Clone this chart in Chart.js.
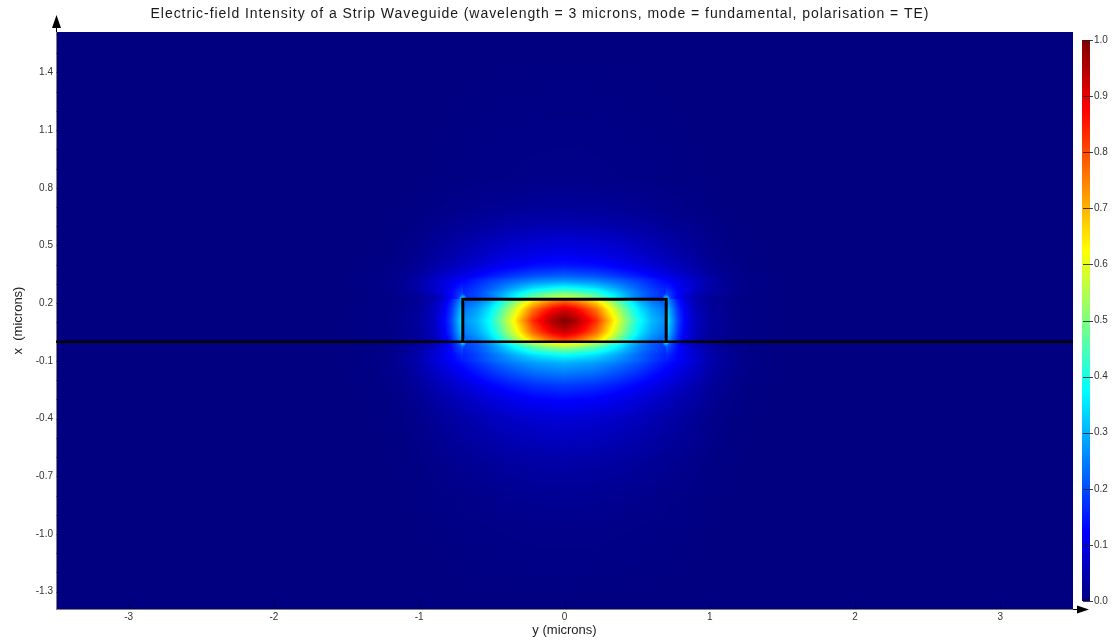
<!DOCTYPE html>
<html lang="en">
<head>
<meta charset="UTF-8">
<title>Strip Waveguide - Electric-field Intensity</title>
<script src="https://cdn.jsdelivr.net/npm/chart.js"></script>
<style>
  body { margin: 0; background: #fff; }
</style>
</head>
<body>
<canvas id="field" width="1119" height="640"></canvas>
<script>
// horizontal axis is y, vertical axis is x (both in microns)
const yRange = [-3.5, 3.5];
const xRange = [-1.39, 1.61];
const yTicks = [-3, -2, -1, 0, 1, 2, 3];
const xTicks = [-1.3, -1.0, -0.7, -0.4, -0.1, 0.2, 0.5, 0.8, 1.1, 1.4];
const barTicks = [0, 0.1, 0.2, 0.3, 0.4, 0.5, 0.6, 0.7, 0.8, 0.9, 1.0];

// strip cross-section: sits on the substrate at x = 0
const stripY = [-0.7, 0.7];
const stripX = [0, 0.22];

// intensity down the centre of the strip (x -> I), repeated x = jump at an interface
const centreX = [-1.39, -1.0, -0.8, -0.62, -0.52, -0.4, -0.3, -0.23, -0.17, -0.11, -0.07, -0.03, -0.01, 0, 0,
  0.05, 0.11, 0.17, 0.22, 0.22, 0.25, 0.28, 0.31, 0.34, 0.39, 0.45, 0.53, 0.6, 0.7, 0.85, 1.61];
const centreI = [0, 0.01, 0.02, 0.04, 0.06, 0.085, 0.13, 0.18, 0.24, 0.3, 0.38, 0.53, 0.64, 0.68, 0.79,
  0.93, 1.0, 0.91, 0.75, 0.6, 0.5, 0.38, 0.29, 0.22, 0.15, 0.11, 0.08, 0.05, 0.025, 0.01, 0];

// relative intensity across the guide (|y| -> factor) for rows inside the strip
const coreY = [0, 0.08, 0.15, 0.22, 0.29, 0.36, 0.45, 0.52, 0.6, 0.7, 0.7, 0.73, 0.78, 0.83, 0.9, 1.0, 1.2, 1.6];
const coreI = [1, 0.96, 0.9, 0.83, 0.72, 0.61, 0.47, 0.38, 0.31, 0.26, 0.37, 0.3, 0.19, 0.12, 0.065, 0.03, 0.008, 0];

// same for rows in the cladding above and the substrate below
const cladY = [0, 0.2, 0.36, 0.5, 0.58, 0.72, 0.86, 1.0, 1.14, 1.27, 1.5, 1.8];
const cladI = [1, 0.94, 0.82, 0.69, 0.6, 0.45, 0.3, 0.15, 0.065, 0.028, 0.006, 0];

// cladding rows this close to the strip (microns) still follow the strip profile
const nearStrip = 0.1;

// small bright spots just outside the four strip corners
const cornerPeak = 0.34;
const cornerSize = 0.035;

const titleText = 'Electric-field Intensity of a Strip Waveguide (wavelength = 3 microns, mode = fundamental, polarisation = TE)';
const family = '"Liberation Sans", Arial, sans-serif';

function lookup(pos, val, t) {
  if (t <= pos[0]) return val[0];
  for (let i = 1; i < pos.length; i++) {
    if (t <= pos[i]) {
      const span = pos[i] - pos[i - 1];
      if (span === 0) return val[i];
      return val[i - 1] + (val[i] - val[i - 1]) * (t - pos[i - 1]) / span;
    }
  }
  return val[val.length - 1];
}

const clamp = v => Math.max(0, Math.min(1, v));

// classic jet colour map
function jet(v) {
  v = clamp(v);
  return [
    Math.round(255 * clamp(1.5 - Math.abs(4 * v - 3))),
    Math.round(255 * clamp(1.5 - Math.abs(4 * v - 2))),
    Math.round(255 * clamp(1.5 - Math.abs(4 * v - 1)))
  ];
}

const corners = [];
stripY.forEach(y => stripX.forEach(x => corners.push([y, x])));

// paints the intensity map under the axes
const fieldMap = {
  id: 'fieldMap',
  beforeDraw(chart) {
    const { ctx, chartArea: a, scales } = chart;
    const w = Math.round(a.right - a.left);
    const h = Math.round(a.bottom - a.top);
    const off = document.createElement('canvas');
    off.width = w;
    off.height = h;
    const octx = off.getContext('2d');
    const img = octx.createImageData(w, h);

    const colY = [], colCore = [], colClad = [];
    for (let i = 0; i < w; i++) {
      const y = scales.x.getValueForPixel(a.left + i + 0.5);
      colY.push(y);
      colCore.push(lookup(coreY, coreI, Math.abs(y)));
      colClad.push(lookup(cladY, cladI, Math.abs(y)));
    }

    for (let j = 0; j < h; j++) {
      const x = scales.y.getValueForPixel(a.top + j + 0.5);
      const v = lookup(centreX, centreI, x);
      const inCore = x > stripX[0] && x < stripX[1];
      const dist = x < stripX[0] ? stripX[0] - x : x - stripX[1];
      const mix = inCore ? 0 : clamp(dist / nearStrip);
      for (let i = 0; i < w; i++) {
        let val = v * (colCore[i] * (1 - mix) + colClad[i] * mix);
        for (const [cy, cx] of corners) {
          const dy = (colY[i] - cy) / cornerSize, dx = (x - cx) / cornerSize;
          const d2 = dx * dx + dy * dy;
          if (d2 < 9) val = Math.max(val, cornerPeak * Math.exp(-d2));
        }
        const [r, g, b] = jet(val);
        const k = (j * w + i) * 4;
        img.data[k] = r;
        img.data[k + 1] = g;
        img.data[k + 2] = b;
        img.data[k + 3] = 255;
      }
    }
    octx.putImageData(img, 0, 0);
    ctx.drawImage(off, a.left, a.top);
  },
  afterDatasetsDraw(chart) {
    // faint tick marks on the inside of the plot
    const { ctx, chartArea: a, scales } = chart;
    ctx.save();
    ctx.strokeStyle = 'rgba(0,0,0,0.3)';
    ctx.lineWidth = 1;
    ctx.beginPath();
    for (let t = -13; t <= 16; t++) {
      const py = Math.round(scales.y.getPixelForValue(t / 10)) + 0.5;
      const major = xTicks.some(v => Math.abs(v - t / 10) < 1e-6);
      ctx.moveTo(a.left, py);
      ctx.lineTo(a.left + (major ? 6 : 4), py);
    }
    yTicks.forEach(v => {
      const px = Math.round(scales.x.getPixelForValue(v)) + 0.5;
      ctx.moveTo(px, a.bottom);
      ctx.lineTo(px, a.bottom - 6);
    });
    ctx.stroke();
    ctx.restore();
  },
  afterDraw(chart) {
    const { ctx, chartArea: a } = chart;
    ctx.save();

    // title
    ctx.font = '14px ' + family;
    ctx.letterSpacing = '0.95px';
    ctx.fillStyle = '#1a1a1a';
    ctx.textAlign = 'center';
    ctx.textBaseline = 'middle';
    ctx.fillText(titleText, 540, 14);
    ctx.letterSpacing = '0px';

    // axis arrows
    ctx.fillStyle = '#000';
    ctx.strokeStyle = '#000';
    ctx.lineWidth = 1;
    const lx = Math.round(a.left) + 0.5;
    ctx.beginPath();
    ctx.moveTo(lx, a.top);
    ctx.lineTo(lx, a.top - 6);
    ctx.stroke();
    ctx.beginPath();
    ctx.moveTo(lx, a.top - 17);
    ctx.lineTo(lx - 4.5, a.top - 4);
    ctx.lineTo(lx + 4.5, a.top - 4);
    ctx.closePath();
    ctx.fill();
    const by = Math.round(a.bottom) + 0.5;
    ctx.beginPath();
    ctx.moveTo(a.right, by);
    ctx.lineTo(a.right + 6, by);
    ctx.stroke();
    ctx.beginPath();
    ctx.moveTo(a.right + 16, by);
    ctx.lineTo(a.right + 4, by - 4);
    ctx.lineTo(a.right + 4, by + 4);
    ctx.closePath();
    ctx.fill();

    // colour bar on the intensity axis
    const cb = chart.scales.cb;
    const top = Math.round(cb.getPixelForValue(1));
    const bot = Math.round(cb.getPixelForValue(0));
    const bx = cb.left + 9;
    for (let p = top; p < bot; p++) {
      const [r, g, b] = jet(cb.getValueForPixel(p + 0.5));
      ctx.fillStyle = `rgb(${r},${g},${b})`;
      ctx.fillRect(bx, p, 8, 1);
    }
    ctx.strokeStyle = 'rgba(30,30,30,0.85)';
    ctx.beginPath();
    cb.ticks.forEach(t => {
      const py = Math.round(cb.getPixelForValue(t.value)) + 0.5;
      ctx.moveTo(bx + 1, py);
      ctx.lineTo(bx + 11, py);
    });
    ctx.stroke();
    ctx.restore();
  }
};

Chart.defaults.font.family = family;

const outline = [
  { x: stripY[0], y: stripX[0] },
  { x: stripY[0], y: stripX[1] },
  { x: stripY[1], y: stripX[1] },
  { x: stripY[1], y: stripX[0] }
];
const substrate = yRange.map(y => ({ x: y, y: stripX[0] }));

const barPad = 8 / 560;

new Chart(document.getElementById('field'), {
  type: 'scatter',
  data: {
    datasets: [
      {
        label: 'substrate',
        data: substrate,
        showLine: true,
        borderColor: '#000',
        borderWidth: 2.5,
        pointRadius: 0
      },
      {
        label: 'strip',
        data: outline,
        showLine: true,
        borderColor: '#000',
        borderWidth: 3,
        borderJoinStyle: 'miter',
        pointRadius: 0
      }
    ]
  },
  options: {
    responsive: false,
    animation: false,
    layout: { padding: { top: 32, left: 0, right: 0, bottom: 0 } },
    plugins: {
      legend: { display: false },
      tooltip: { enabled: false }
    },
    scales: {
      x: {
        type: 'linear',
        min: yRange[0],
        max: yRange[1],
        afterBuildTicks: s => { s.ticks = yTicks.map(v => ({ value: v })); },
        afterFit: s => { s.height = 31; },
        ticks: { callback: v => String(v), font: { size: 10 }, color: '#333', padding: 2, maxRotation: 0, autoSkip: false },
        grid: { display: false, drawTicks: false },
        border: { display: true, color: '#808080', width: 1 },
        title: { display: true, text: 'y (microns)', font: { size: 13 }, color: '#222', padding: { top: 0, bottom: 2 } }
      },
      y: {
        type: 'linear',
        min: xRange[0],
        max: xRange[1],
        afterBuildTicks: s => { s.ticks = xTicks.map(v => ({ value: v })); },
        afterFit: s => { s.width = 56; },
        ticks: { callback: v => v.toFixed(1), font: { size: 10 }, color: '#333', padding: 3, autoSkip: false },
        grid: { display: false, drawTicks: false },
        border: { display: true, color: '#808080', width: 1 },
        title: { display: true, text: 'x  (microns)', font: { size: 13 }, color: '#222', padding: { top: 11, bottom: 0 } }
      },
      cb: {
        type: 'linear',
        position: 'right',
        min: -barPad,
        max: 1 + barPad,
        afterBuildTicks: s => { s.ticks = barTicks.map(v => ({ value: v })); },
        afterFit: s => { s.width = 46; },
        ticks: { callback: v => v.toFixed(1), font: { size: 10 }, color: '#333', padding: 21, autoSkip: false },
        grid: { display: false, drawTicks: false },
        border: { display: false }
      }
    }
  },
  plugins: [fieldMap]
});
</script>
</body>
</html>
